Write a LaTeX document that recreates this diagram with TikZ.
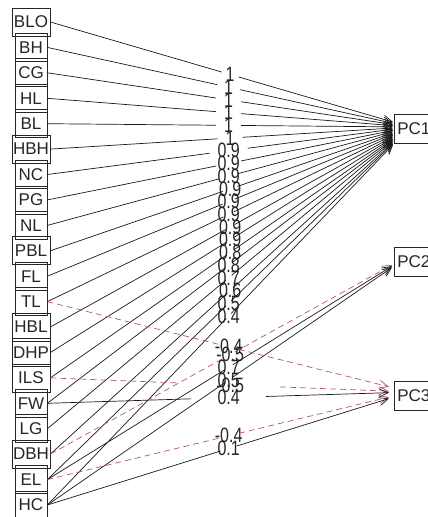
\documentclass[tikz,border=0pt]{standalone}
\usepackage{fontspec}
\setmainfont{Liberation Sans}
\usetikzlibrary{arrows.meta,calc}

\definecolor{negred}{RGB}{185,85,105}

\tikzset{
  varbox/.style={draw=black!85, line width=0.7pt, minimum height=28pt, inner sep=0pt,
    font=\fontsize{17}{17}\selectfont, text=black!85},
  narrow/.style={varbox, minimum width=32pt},
  wide/.style={varbox, minimum width=38pt},
  pcbox/.style={draw=black!85, line width=0.7pt, minimum height=29pt, inner xsep=3pt,
    inner ysep=0pt, anchor=west, font=\fontsize{17}{17}\selectfont, text=black!85},
  lbl/.style={font=\fontsize{16}{16}\selectfont, inner sep=0pt, text=black!85},
  posload/.style={draw=black!90, line width=0.7pt},
  negload/.style={draw=negred, line width=0.7pt, dash pattern=on 6pt off 4pt},
  loadtip/.style={-{Straight Barb[length=9pt,width=8pt]}},
}

% loading edge: source node, aim point of the component, x where the arrow tip sits,
% label, style, characters in label; the line is broken around its label
\newcommand\loadedge[6]{%
  \path let \p1=(#1.east), \p2=(#2),
    \n1={scalar(min(12.5*#6/max(abs(\x2-\x1),1), 2.5/max(abs(\y2-\y1),0.01)))},
    \n2={scalar((#3-\x1)/(\x2-\x1))} in
    (#1.east) -- (#2)
      coordinate[pos={0.5-\n1}] (ga)
      coordinate[pos={0.5+\n1}] (gb)
      coordinate[pos=\n2] (gc)
      node[lbl,pos=0.5] {\scalebox{1}[1.3]{#4}};
  \draw[#5] (#1.east) -- (ga);
  \draw[#5,loadtip] (gb) -- (gc);
}

\begin{document}
\begin{tikzpicture}[x=1pt,y=-1pt]
\useasboundingbox (0,0) rectangle (428,517);

% observed variables
\node[wide]   (BLO) at (31,22.0)  {BLO};
\node[narrow] (BH)  at (31,47.4)  {BH};
\node[narrow] (CG)  at (31,72.8)  {CG};
\node[narrow] (HL)  at (31,98.3)  {HL};
\node[narrow] (BL)  at (31,123.7) {BL};
\node[wide]   (HBH) at (31,149.1) {HBH};
\node[narrow] (NC)  at (31,174.5) {NC};
\node[narrow] (PG)  at (31,199.9) {PG};
\node[narrow] (NL)  at (31,225.4) {NL};
\node[wide]   (PBL) at (31,250.8) {PBL};
\node[narrow] (FL)  at (31,276.2) {FL};
\node[narrow] (TL)  at (31,301.6) {TL};
\node[wide]   (HBL) at (31,327.0) {HBL};
\node[wide]   (DHP) at (31,352.5) {DHP};
\node[wide]   (ILS) at (31,377.9) {ILS};
\node[narrow] (FW)  at (31,403.3) {FW};
\node[narrow] (LG)  at (31,428.7) {LG};
\node[wide]   (DBH) at (31,454.1) {DBH};
\node[narrow] (EL)  at (31,479.6) {EL};
\node[narrow] (HC)  at (31,505.0) {HC};

% components
\node[pcbox] (PC1) at (394,129) {PC1};
\node[pcbox] (PC2) at (394,262) {PC2};
\node[pcbox] (PC3) at (394,396) {PC3};

% points the loading arrows aim at
\coordinate (a1) at (410,127);
\coordinate (a2) at (410,255);
\coordinate (a3) at (410,392);

% loadings on PC1
\loadedge{BLO}{a1}{393}{1}{posload}{1}
\loadedge{BH}{a1}{393}{1}{posload}{1}
\loadedge{CG}{a1}{393}{1}{posload}{1}
\loadedge{HL}{a1}{393}{1}{posload}{1}
\loadedge{BL}{a1}{393}{1}{posload}{1}
\loadedge{HBH}{a1}{393}{1}{posload}{1}
\loadedge{NC}{a1}{393}{0.9}{posload}{3}
\loadedge{PG}{a1}{393}{0.9}{posload}{3}
\loadedge{NL}{a1}{393}{0.9}{posload}{3}
\loadedge{PBL}{a1}{393}{0.9}{posload}{3}
\loadedge{FL}{a1}{393}{0.9}{posload}{3}
\loadedge{TL}{a1}{393}{0.9}{posload}{3}
\loadedge{HBL}{a1}{393}{0.9}{posload}{3}
\loadedge{DHP}{a1}{393}{0.9}{posload}{3}
\loadedge{ILS}{a1}{393}{0.8}{posload}{3}
\loadedge{FW}{a1}{393}{0.8}{posload}{3}
\loadedge{LG}{a1}{393}{0.7}{posload}{3}
\loadedge{DBH}{a1}{393}{0.6}{posload}{3}
\loadedge{EL}{a1}{393}{0.5}{posload}{3}
\loadedge{HC}{a1}{393}{0.4}{posload}{3}

% loadings on PC2
\loadedge{DBH}{a2}{392}{-0.5}{negload}{4}
\loadedge{EL}{a2}{392}{0.7}{posload}{3}
\loadedge{HC}{a2}{392}{0.5}{posload}{3}

% loadings on PC3
\loadedge{TL}{a3}{389}{-0.4}{negload}{4}
\loadedge{ILS}{a3}{389}{-0.5}{negload}{4}
\loadedge{FW}{a3}{389}{0.4}{posload}{3}
\loadedge{EL}{a3}{389}{-0.4}{negload}{4}
\loadedge{HC}{a3}{389}{0.1}{posload}{3}
\end{tikzpicture}
\end{document}
